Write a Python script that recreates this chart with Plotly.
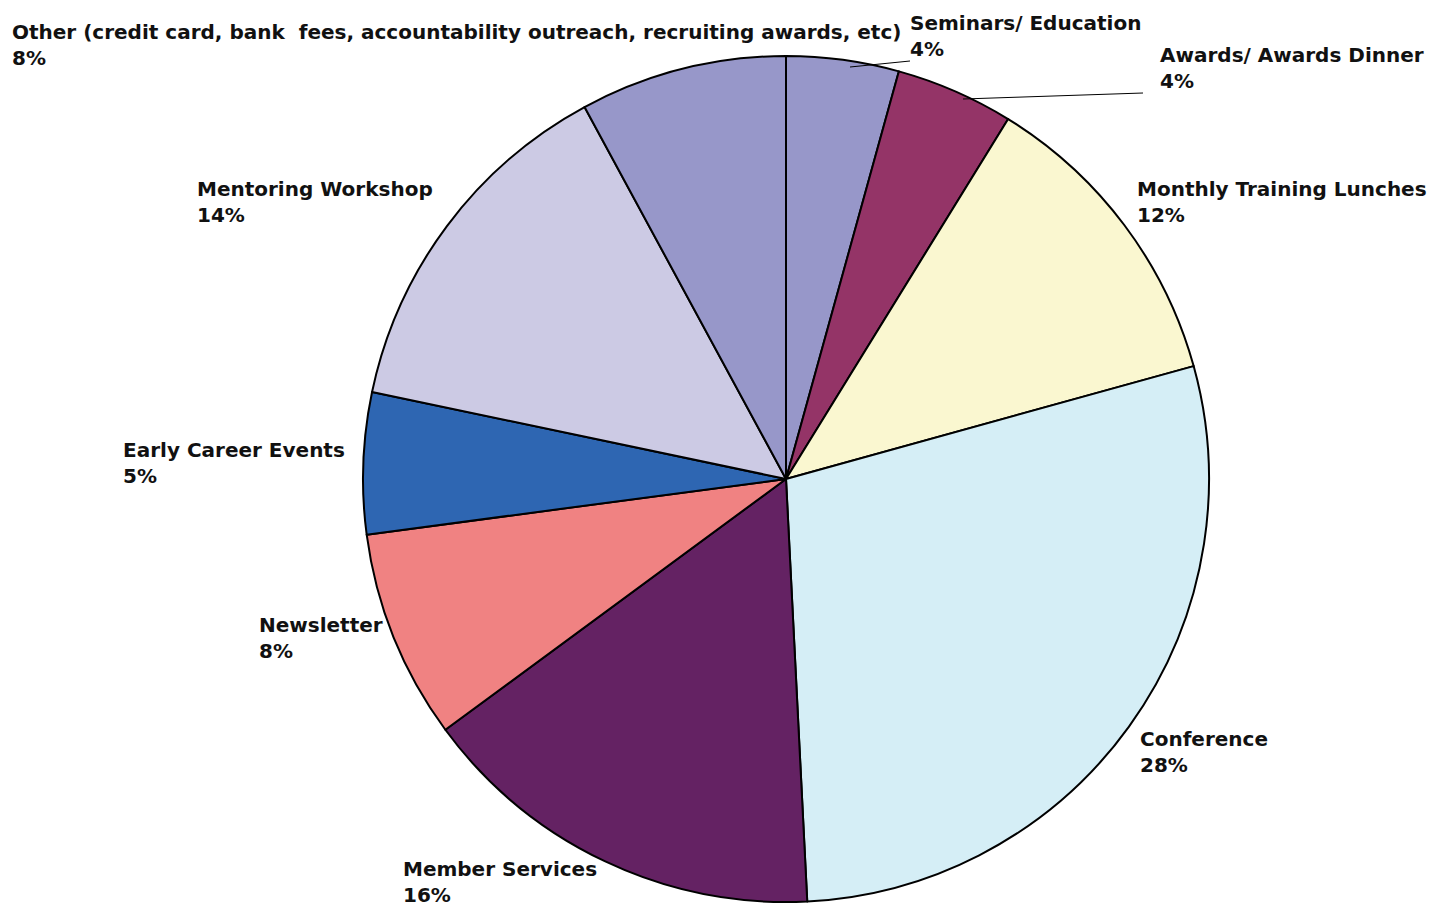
import plotly.graph_objects as go

# The page body adds an 8px margin, so the figure is sized to fill the rest of the window
OFF = 8
VW, VH = 1436, 907
W, H = VW - OFF, VH - OFF

labels = ["Seminars/ Education", "Awards/ Awards Dinner", "Monthly Training Lunches",
          "Conference", "Member Services", "Newsletter", "Early Career Events",
          "Mentoring Workshop",
          "Other (credit card, bank  fees, accountability outreach, recruiting awards, etc)"]
values = [4.3, 4.5, 11.9, 28.5, 15.7, 8.0, 5.4, 13.8, 7.9]
pct_labels = ["4%", "4%", "12%", "28%", "16%", "8%", "5%", "14%", "8%"]
colors = ["#9797C9", "#943467", "#FAF7D0", "#D5EEF6", "#642263",
          "#F08282", "#2E66B2", "#CCCAE4", "#9797C9"]

# label placement (window pixels: text left x, block center y)
label_pos = [(910, 36), (1160, 68), (1137, 202), (1140, 752), (403, 882),
             (259, 638), (123, 463), (197, 202), (12, 45)]
leaders = [((850, 67), (910, 61)), ((963, 99), (1143, 93))]

def px(x):
    return (x - OFF) / W

def py(y):
    return 1 - (y - OFF) / H

cx, cy, r = 786, 479, 423

fig = go.Figure(go.Pie(
    labels=labels, values=values, sort=False, direction="clockwise", rotation=0,
    marker=dict(colors=colors, line=dict(color="#000000", width=2)),
    textinfo="none", hoverinfo="label+percent", showlegend=False,
    domain=dict(x=[px(cx - r), px(cx + r)], y=[py(cy + r), py(cy - r)]),
))

annotations = []
for lab, pct, (x, y) in zip(labels, pct_labels, label_pos):
    annotations.append(dict(
        x=px(x - 2), y=py(y), xref="paper", yref="paper", xanchor="left", yanchor="middle",
        align="left", showarrow=False, text=f"<b>{lab}<br>{pct}</b>",
        font=dict(family="DejaVu Sans, sans-serif", size=20, color="#111111"),
    ))

shapes = []
for (x0, y0), (x1, y1) in leaders:
    shapes.append(dict(type="line", xref="paper", yref="paper",
                       x0=px(x0), y0=py(y0), x1=px(x1), y1=py(y1),
                       line=dict(color="#000000", width=1)))

fig.update_layout(
    width=W, height=H, margin=dict(l=0, r=0, t=0, b=0),
    paper_bgcolor="white", plot_bgcolor="white",
    annotations=annotations, shapes=shapes,
)

fig.write_html("out.html")
